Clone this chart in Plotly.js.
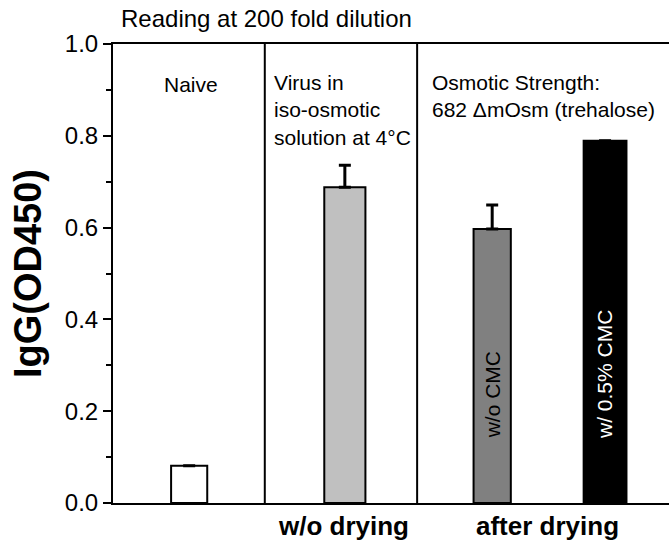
<!DOCTYPE html>
<html>
<head>
<meta charset="utf-8">
<script src="https://cdn.plot.ly/plotly-3.0.1.min.js"></script>
<style>html,body{margin:0;padding:0;background:#fff;}#chart{width:669px;height:542px;}</style>
</head>
<body>
<div id="chart"></div>
<script>
// Data
var categories = ["Naive", "Virus in iso-osmotic solution at 4°C", "w/o CMC", "w/ 0.5% CMC"];
var xPositions = [1.37, 4.17, 6.82, 8.85];
var values = [0.081, 0.688, 0.597, 0.789];
var errPlus = [NaN, 0.048, 0.052, NaN];
var barColors = ["#ffffff", "#c0c0c0", "#808080", "#000000"];
var groupDividers = [2.73, 5.47];
var groupLabels = ["w/o drying", "after drying"];
var groupLabelX = [4.14, 7.82];
var yTicks = [0, 0.2, 0.4, 0.6, 0.8, 1.0];
var yTickText = ["0.0", "0.2", "0.4", "0.6", "0.8", "1.0"];

var FONT = "Liberation Sans, Arial, sans-serif";

var trace = {
  type: "bar",
  x: xPositions,
  y: values,
  width: [0.65, 0.74, 0.67, 0.77],
  text: categories,
  hoverinfo: "y",
  textposition: "none",
  marker: {color: barColors, line: {color: "#000", width: 2}},
  error_y: {type: "data", symmetric: false, array: errPlus, arrayminus: [0,0,0,0], color: "#000", thickness: 3, width: 6}
};

var shapes = groupDividers.map(function (gx) {
  return {type: "line", xref: "x", yref: "y", x0: gx, x1: gx, y0: -0.006, y1: 1, line: {color: "#000", width: 2}};
});

var annotations = [
  {x: 1.40, y: 0.911, xref: "x", yref: "y", text: "Naive", showarrow: false, xanchor: "center", yanchor: "middle", font: {family: FONT, size: 21, color: "#000"}},
  {x: 2.86, y: 0.945, xref: "x", yref: "y", text: "Virus in<br>iso-osmotic<br>solution at 4°C", showarrow: false, xanchor: "left", yanchor: "top", align: "left", font: {family: FONT, size: 21, color: "#000"}},
  {x: 5.70, y: 0.945, xref: "x", yref: "y", text: "Osmotic Strength:<br>682 ΔmOsm (trehalose)", showarrow: false, xanchor: "left", yanchor: "top", align: "left", font: {family: FONT, size: 21, color: "#000"}},
  {x: xPositions[2], y: 0.235, xref: "x", yref: "y", text: "w/o CMC", textangle: -90, showarrow: false, xanchor: "center", yanchor: "middle", font: {family: FONT, size: 21, color: "#000"}},
  {x: xPositions[3], y: 0.279, xref: "x", yref: "y", text: "w/ 0.5% CMC", textangle: -90, showarrow: false, xanchor: "center", yanchor: "middle", font: {family: FONT, size: 21, color: "#fff"}}
];
groupLabels.forEach(function (lab, i) {
  annotations.push({x: groupLabelX[i], y: 0, xref: "x", yref: "paper", yshift: -23, text: "<b>" + lab + "</b>", showarrow: false, xanchor: "center", yanchor: "middle", font: {family: FONT, size: 26, color: "#000"}});
});

var layout = {
  width: 669, height: 542,
  margin: {l: 113, r: 0, t: 44, b: 39, pad: 0},
  paper_bgcolor: "#fff", plot_bgcolor: "#fff",
  showlegend: false,
  title: {text: "Reading at 200 fold dilution", x: 0.0144, xref: "paper", xanchor: "left", y: 0.965, yref: "container", yanchor: "middle", font: {family: FONT, size: 24, color: "#000"}},
  xaxis: {range: [0, 10], showline: true, mirror: true, linecolor: "#000", linewidth: 2, showgrid: false, zeroline: false, showticklabels: false, ticks: "", fixedrange: true},
  yaxis: {range: [0, 1], showline: true, linecolor: "#000", linewidth: 2, showgrid: false, zeroline: false,
    tickvals: yTicks, ticktext: yTickText, ticks: "outside", ticklen: 8, tickwidth: 2, tickcolor: "#000",
    tickfont: {family: FONT, size: 24, color: "#000"},
    minor: {dtick: 0.1, ticks: "outside", ticklen: 5, tickwidth: 2, tickcolor: "#000", showgrid: false},
    title: {text: "<b>IgG(OD450)</b>", font: {family: FONT, size: 38, color: "#000"}, standoff: 12}},
  shapes: shapes,
  annotations: annotations
};

Plotly.newPlot("chart", [trace], layout, {displayModeBar: false, staticPlot: true});
</script>
</body>
</html>
